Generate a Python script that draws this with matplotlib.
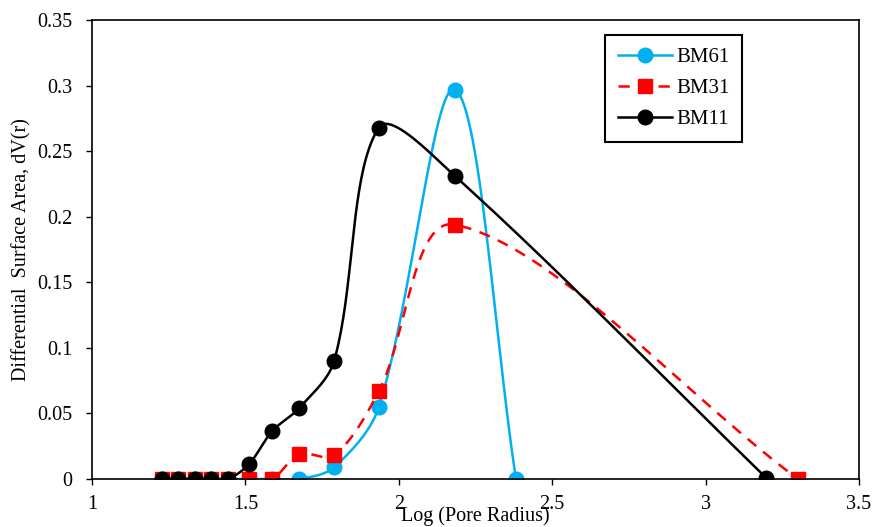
import numpy as np
import matplotlib.pyplot as plt

plt.rcParams['font.family'] = ['Liberation Serif', 'DejaVu Serif']

# BM61
x61 = [1.228, 1.280, 1.336, 1.388, 1.443, 1.512, 1.587, 1.675, 1.789, 1.935, 2.183, 2.382]
y61 = [0, 0, 0, 0, 0, 0, 0, 0, 0.009, 0.055, 0.297, 0]
# BM31
x31 = [1.228, 1.280, 1.336, 1.388, 1.443, 1.512, 1.587, 1.675, 1.789, 1.935, 2.183, 3.301]
y31 = [0, 0, 0, 0, 0, 0, 0, 0.019, 0.018, 0.067, 0.194, 0]
# BM11
x11 = [1.228, 1.280, 1.336, 1.388, 1.443, 1.512, 1.587, 1.675, 1.789, 1.935, 2.183, 3.197]
y11 = [0, 0, 0, 0, 0, 0.0115, 0.0365, 0.054, 0.090, 0.268, 0.231, 0.001]

XLIM = (1, 3.5)
YLIM = (0, 0.35)


def smooth(x, y, sx, sy, n=40):
    # smoothed line like the spreadsheet one: Bezier pieces, tangents in screen units
    p = np.column_stack([np.asarray(x) * sx, np.asarray(y) * sy])
    p = np.vstack([p[0], p, p[-1]])
    out = []
    t = np.linspace(0, 1, n)[:, None]
    for i in range(1, len(p) - 2):
        p0, p1, p2, p3 = p[i - 1], p[i], p[i + 1], p[i + 2]
        d01 = np.hypot(*(p1 - p0))
        d12 = np.hypot(*(p2 - p1))
        d23 = np.hypot(*(p3 - p2))
        a = d12 / (d01 + d12) / 1.5 if d01 + d12 > 0 else 0
        b = d12 / (d12 + d23) / 1.5 if d12 + d23 > 0 else 0
        c1 = p1 + (p2 - p0) * a / 2
        c2 = p2 - (p3 - p1) * b / 2
        seg = ((1 - t) ** 3) * p1 + 3 * ((1 - t) ** 2) * t * c1 + 3 * (1 - t) * t ** 2 * c2 + t ** 3 * p2
        out.append(seg)
    out = np.vstack(out)
    return out[:, 0] / sx, out[:, 1] / sy


fig = plt.figure(figsize=(8.73, 5.27), dpi=100)
ax = fig.add_axes([0.1054, 0.091, 0.8786, 0.871])
pxx = 0.8786 * 873 / (XLIM[1] - XLIM[0])
pxy = 0.871 * 527 / (YLIM[1] - YLIM[0])

series = [
    (x61, y61, 'BM61', '#00B0F0', '-', 'o', 10.5),
    (x31, y31, 'BM31', '#FF0000', (0, (4.5, 3.5)), 's', 10.5),
    (x11, y11, 'BM11', 'black', '-', 'o', 10.5),
]
for x, y, lab, c, ls, m, ms in series:
    sx_, sy_ = smooth(x, y, pxx, pxy)
    ax.plot(sx_, sy_, color=c, linestyle=ls, linewidth=1.8)
    ax.plot(x, y, linestyle='none', marker=m, color=c, markersize=ms)
    ax.plot([], [], color=c, linestyle=ls, linewidth=1.8, marker=m, markersize=ms, label=lab)

ax.set_xlim(*XLIM)
ax.set_ylim(*YLIM)
ax.set_xticks([1, 1.5, 2, 2.5, 3, 3.5])
ax.set_xticklabels(['1', '1.5', '2', '2.5', '3', '3.5'])
ax.set_yticks(np.arange(0, 0.351, 0.05))
ax.set_yticklabels(['0', '0.05', '0.1', '0.15', '0.2', '0.25', '0.3', '0.35'])
ax.tick_params(labelsize=14.5, direction='out', length=4, width=1)
ax.tick_params(axis='y', pad=10)
ax.tick_params(axis='x', pad=7.5)
for s in ax.spines.values():
    s.set_linewidth(1.2)

ax.set_xlabel('Log (Pore Radius)', fontsize=14.5)
ax.xaxis.set_label_coords(0.5, -0.059)
ax.xaxis.label.set_va('top')
ax.set_ylabel('Differential  Surface Area, dV(r)', fontsize=14.5)
ax.yaxis.set_label_coords(-0.0787, 0.5)

leg = ax.legend(loc='upper left', bbox_to_anchor=(0.669, 0.967), fontsize=15,
                frameon=True, fancybox=False, edgecolor='black', framealpha=1,
                handlelength=2.6, labelspacing=0.55, borderpad=0.6, handletextpad=0.2,
                borderaxespad=0)
leg.get_frame().set_linewidth(1.5)

fig.savefig('out.png', dpi=100)
